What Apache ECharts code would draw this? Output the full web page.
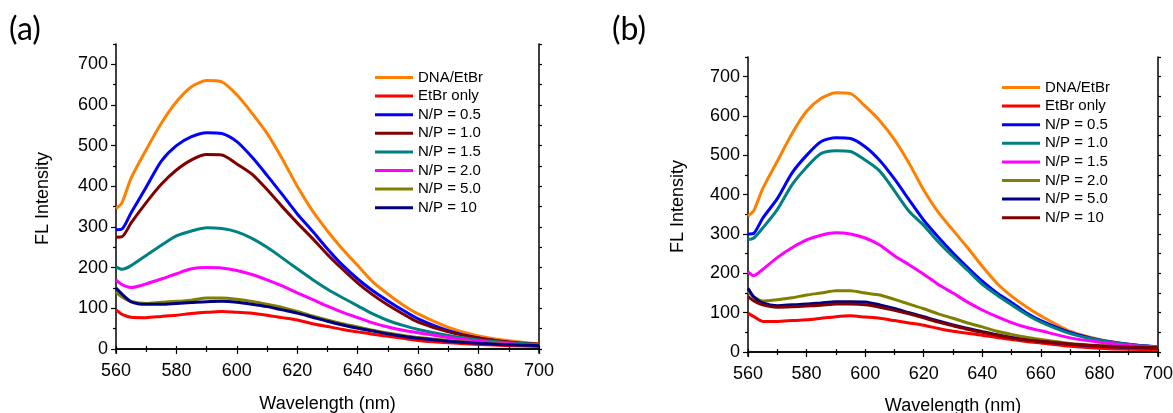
<!DOCTYPE html>
<html lang="en">
<head>
<meta charset="UTF-8">
<title>FL Intensity</title>
<script src="https://cdn.jsdelivr.net/npm/echarts@6/dist/echarts.min.js"></script>
<style>
    body { margin: 0; background: #fff; }
    #chartA { position: absolute; left: 0; top: 0; width: 586px; height: 413px; }
    #chartB { position: absolute; left: 586px; top: 0; width: 587px; height: 413px; }
</style>
</head>
<body>
<div id="chartA"></div>
<div id="chartB"></div>
<script>
    // wavelength (nm)
    var wavelength = [560,562,565,570,575,580,585,590,595,600,605,610,615,620,625,630,635,640,645,650,655,660,670,680,690,700];

    // panel (a)
    var a_dna   = [345,360,420,490,555,608,645,660,657,625,580,530,468,400,340,290,245,205,165,135,108,86,53,32,20,12];
    var a_etbr  = [96,85,78,77,80,83,87,90,92,90,88,83,77,71,62,55,48,42,36,31,26,21,15,11,8,6];
    var a_np05  = [293,295,335,398,462,500,522,532,530,510,472,427,380,332,290,246,206,172,143,118,95,74,45,27,16,10];
    var a_np10  = [275,276,310,360,405,440,465,478,477,455,430,392,350,310,272,232,196,162,133,108,86,66,42,27,17,12];
    var a_np15  = [202,196,205,230,255,278,290,298,296,288,272,250,224,197,171,147,126,106,86,70,58,48,33,22,15,10];
    var a_np20  = [169,158,151,160,172,185,197,200,199,193,183,170,155,138,122,105,90,77,64,54,46,40,28,19,13,9];
    var a_np50  = [140,128,117,112,115,117,120,125,125,122,117,110,102,92,81,71,62,54,46,39,33,28,21,15,11,9];
    var a_np100 = [150,135,116,110,110,112,114,116,117,115,110,104,96,88,78,68,59,51,44,37,31,26,19,14,10,8];

    // panel (b)
    var b_dna   = [346,360,415,485,555,612,645,659,657,625,588,540,480,412,355,310,265,218,175,142,115,92,53,32,20,13];
    var b_etbr  = [99,90,78,78,80,82,86,90,92,89,86,80,74,68,60,53,48,43,37,32,27,23,15,10,7,6];
    var b_np05  = [300,302,340,390,455,500,535,545,543,522,487,440,387,335,292,252,215,180,150,126,100,80,50,31,20,13];
    var b_np10  = [286,290,315,362,425,470,505,512,510,488,460,410,358,322,280,243,208,172,145,120,96,76,47,30,19,12];
    var b_np15  = [204,194,210,240,265,285,297,303,300,290,272,245,222,198,172,150,127,107,90,75,63,54,36,25,17,13];
    var b_np20  = [154,140,130,133,138,145,150,156,156,150,145,134,122,110,97,86,74,64,53,45,38,32,22,16,12,10];
    var b_np50  = [162,140,125,118,120,122,125,128,128,127,120,111,100,90,79,69,60,52,44,37,31,27,20,15,12,10];
    var b_np100 = [141,130,120,114,115,117,119,122,122,120,114,106,97,87,76,67,58,50,43,36,31,27,20,16,13,11];

    var names = ['DNA/EtBr','EtBr only','N/P = 0.5','N/P = 1.0','N/P = 1.5','N/P = 2.0','N/P = 5.0','N/P = 10'];
    var colorsA = ['#FF8000','#FF0000','#0000FF','#800000','#008080','#FF00FF','#808000','#000080'];
    var colorsB = ['#FF8000','#FF0000','#0000FF','#008080','#FF00FF','#808000','#000080','#800000'];

    var yTicks = [0,100,200,300,400,500,600,700];
    var yMinor = [50,150,250,350,450,550,650,750];
    var yAll   = [0,50,100,150,200,250,300,350,400,450,500,550,600,650,700,750];

    var FONT = '"Liberation Sans", Arial, sans-serif';

    function pairs(vals) {
        return wavelength.map(function (w, i) { return [w, vals[i]]; });
    }

    function makeOption(tag, seriesVals, colors, g, lg, yNameGap, xNameGap) {
        var line = { show: true, lineStyle: { color: '#000', width: 1.5 } };
        var series = seriesVals.map(function (vals, i) {
            return {
                name: names[i],
                type: 'line',
                xAxisIndex: 0,
                yAxisIndex: 0,
                showSymbol: false,
                smooth: 0.25,
                color: colors[i],
                lineStyle: { width: 3, color: colors[i] },
                data: pairs(vals)
            };
        });
        return {
            animation: false,
            backgroundColor: '#fff',
            textStyle: { fontFamily: FONT },
            graphic: [{
                type: 'text', left: tag.left, top: 14,
                style: { text: tag.text, font: '32px Lato, "Open Sans", sans-serif', fill: '#000' }
            }],
            legend: {
                orient: 'vertical',
                left: lg.left,
                top: lg.top,
                icon: 'rect',
                itemWidth: 38,
                itemHeight: 3,
                itemGap: 3.6,
                selectedMode: false,
                textStyle: { fontFamily: FONT, fontSize: 15, color: '#000', lineHeight: 15 },
                data: names
            },
            grid: {
                left: g.left, top: g.top, width: g.width, height: g.height,
                show: false, containLabel: false, outerBoundsMode: 'none'
            },
            xAxis: [
                {
                    type: 'value', gridIndex: 0, position: 'bottom',
                    min: 560, max: 700, interval: 20,
                    name: 'Wavelength (nm)', nameLocation: 'middle', nameGap: xNameGap,
                    nameTextStyle: { fontFamily: FONT, fontSize: 18, color: '#000' },
                    axisLine: line,
                    axisTick: { show: true, length: 5, lineStyle: { color: '#000', width: 1.2 } },
                    minorTick: { show: true, splitNumber: 2, length: 3, lineStyle: { color: '#000', width: 1.2 } },
                    axisLabel: { fontFamily: FONT, fontSize: 18, color: '#000', margin: 9 },
                    splitLine: { show: false }
                },
                {
                    type: 'value', gridIndex: 0, position: 'top',
                    min: 560, max: 700, interval: 10,
                    axisLine: line,
                    axisTick: { show: true, length: 3, lineStyle: { color: '#000', width: 1.2 } },
                    axisLabel: { show: false },
                    splitLine: { show: false }
                }
            ],
            yAxis: [
                {
                    type: 'value', gridIndex: 0, position: 'left',
                    min: -10, max: 750,
                    name: 'FL Intensity', nameLocation: 'middle', nameGap: yNameGap,
                    nameTextStyle: { fontFamily: FONT, fontSize: 18, color: '#000' },
                    axisLine: line,
                    axisTick: { show: true, length: 5, customValues: yTicks, lineStyle: { color: '#000', width: 1.2 } },
                    axisLabel: { fontFamily: FONT, fontSize: 18, color: '#000', margin: 8, customValues: yTicks },
                    splitLine: { show: false }
                },
                {
                    type: 'value', gridIndex: 0, position: 'left',
                    min: -10, max: 750,
                    axisLine: { show: false },
                    axisTick: { show: true, length: 3, customValues: yMinor, lineStyle: { color: '#000', width: 1.2 } },
                    axisLabel: { show: false },
                    splitLine: { show: false }
                },
                {
                    type: 'value', gridIndex: 0, position: 'right',
                    min: -10, max: 750,
                    axisLine: line,
                    axisTick: { show: true, length: 3, customValues: yAll, lineStyle: { color: '#000', width: 1.2 } },
                    axisLabel: { show: false },
                    splitLine: { show: false }
                }
            ],
            series: series
        };
    }

    var chartA = echarts.init(document.getElementById('chartA'));
    chartA.setOption(makeOption(
        { text: '(a)', left: 9 },
        [a_dna, a_etbr, a_np05, a_np10, a_np15, a_np20, a_np50, a_np100],
        colorsA,
        { left: 116, top: 44, width: 423, height: 309 },
        { left: 370, top: 65 },
        64, 42
    ));

    var chartB = echarts.init(document.getElementById('chartB'));
    chartB.setOption(makeOption(
        { text: '(b)', left: 26 },
        [b_dna, b_etbr, b_np05, b_np10, b_np15, b_np20, b_np50, b_np100],
        colorsB,
        { left: 162, top: 57, width: 410, height: 299 },
        { left: 411, top: 75 },
        61, 41
    ));
</script>
</body>
</html>
